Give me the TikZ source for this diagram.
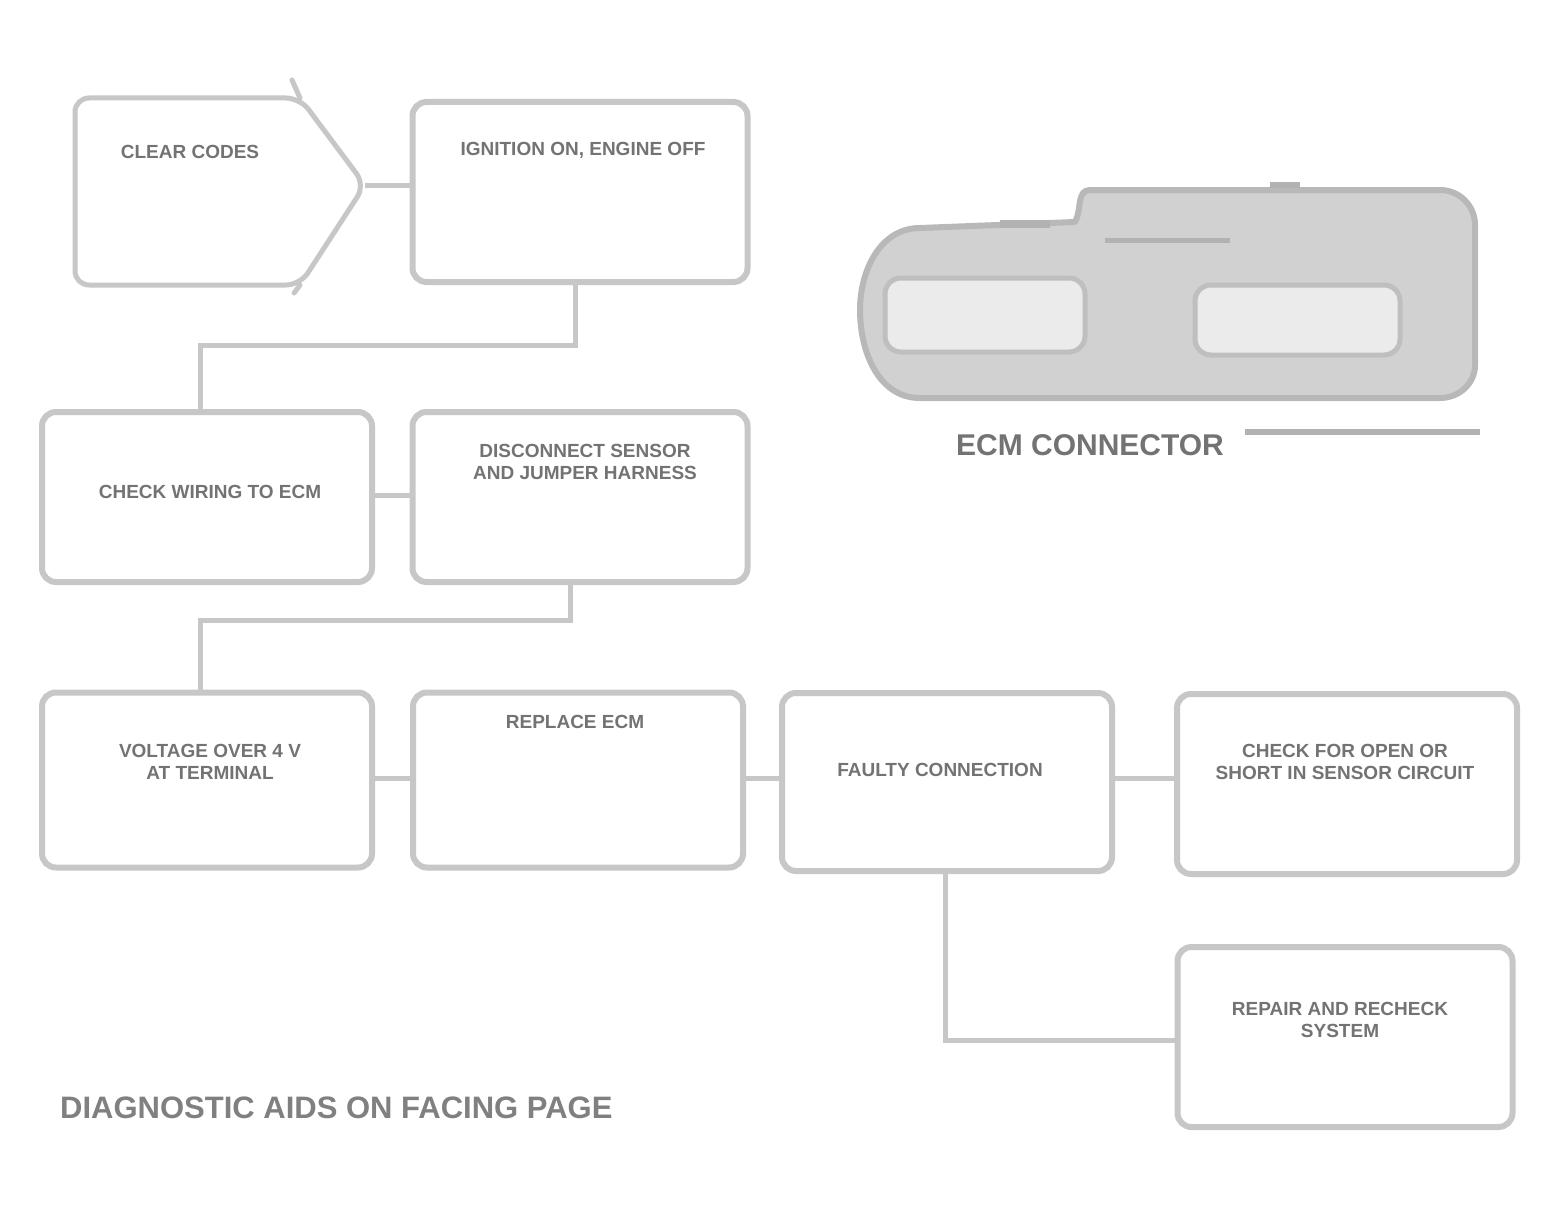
\documentclass[tikz,border=0pt]{standalone}
\usepackage{fontspec}
\setsansfont{Liberation Sans}
\begin{document}
\begin{tikzpicture}[x=1pt,y=-1pt,
  box/.style={draw=black!22, line width=6pt, rounded corners=14pt, inner sep=0pt},
  conn/.style={draw=black!22, line width=5pt},
  lbl/.style={font=\sffamily\bfseries\fontsize{19}{22}\selectfont, text=black!55, align=center, inner sep=0pt},
]
\useasboundingbox (0,0) rectangle (1557,1204);
\fill[white] (0,0) rectangle (1557,1204);

% box 1 (chevron shaped)
\draw[conn, rounded corners=14pt, line join=round] (300,98) -- (365,185) -- (300,285) -- (75,285) -- (75,98) -- cycle;
\draw[conn, line cap=round] (300,98) -- (292,80);
\draw[conn, line cap=round] (300,285) -- (294,293);
\coordinate (b1) at (365,185);
\node[lbl] (t1) at (190,152) {CLEAR CODES};

% box 2
\node[box, minimum width=335pt, minimum height=180pt] (b2) at (580,192) {};
\node[lbl] (t2) at (583,150) {IGNITION ON, ENGINE OFF};

% box 3, 4
\node[box, minimum width=330pt, minimum height=170pt] (b3) at (207,497) {};
\node[lbl] (t3) at (210,492) {CHECK WIRING TO ECM};
\node[box, minimum width=335pt, minimum height=170pt] (b4) at (580,497) {};
\node[lbl] (t4) at (585,462) {DISCONNECT SENSOR\\AND JUMPER HARNESS};

% row 3
\node[box, minimum width=330pt, minimum height=175pt] (b5) at (207,780) {};
\node[lbl] (t5) at (210,762) {VOLTAGE OVER 4 V\\AT TERMINAL};
\node[box, minimum width=330pt, minimum height=175pt] (b6) at (578,780) {};
\node[lbl] (t6) at (575,722) {REPLACE ECM};
\node[box, minimum width=330pt, minimum height=178pt] (b7) at (947,782) {};
\node[lbl] (t7) at (940,770) {FAULTY CONNECTION};
\node[box, minimum width=340pt, minimum height=180pt] (b8) at (1347,784) {};
\node[lbl] (t8) at (1345,762) {CHECK FOR OPEN OR\\SHORT IN SENSOR CIRCUIT};

% box 9
\node[box, minimum width=335pt, minimum height=180pt] (b9) at (1345,1037) {};
\node[lbl] (t9) at (1340,1020) {REPAIR AND RECHECK\\SYSTEM};

% connectors
\draw[conn] (b1) -- (b2.west |- b1);
\draw[conn] (b2.south -| 575,0) -- (575,345) -- (200,345) -- (b3.north -| 200,0);
\draw[conn] (b3.east |- 0,495) -- (b4.west |- 0,495);
\draw[conn] (b4.south -| 570,0) -- (570,620) -- (200,620) -- (b5.north -| 200,0);
\draw[conn] (b5.east |- 0,778) -- (b6.west |- 0,778);
\draw[conn] (b6.east |- 0,778) -- (b7.west |- 0,778);
\draw[conn] (b7.east |- 0,778) -- (b8.west |- 0,778);
\draw[conn] (b7.south -| 945,0) -- (945,1040) -- (b9.west |- 0,1040);

% connector illustration
\filldraw[fill=black!18, draw=black!28, line width=6pt, line join=round]
  (1090,190) -- (1440,190) to[out=0,in=90] (1475,225) -- (1475,365) to[out=-90,in=0] (1440,398)
  -- (920,398) to[out=180,in=-90] (860,310) to[out=90,in=180] (920,228) -- (1075,222) to[out=60,in=180] (1090,190) -- cycle;
\filldraw[fill=black!8, draw=black!25, line width=5pt, rounded corners=16pt] (885,278) rectangle (1085,352);
\filldraw[fill=black!8, draw=black!25, line width=5pt, rounded corners=16pt] (1195,285) rectangle (1400,355);
\draw[black!30, line width=5pt] (1105,240) -- (1230,240);
\draw[black!30, line width=6pt] (1270,185) -- (1300,185);
\draw[black!30, line width=8pt] (1000,224) -- (1050,224);
\node[font=\sffamily\bfseries\fontsize{30}{32}\selectfont, text=black!55, inner sep=0pt] (ilbl) at (1090,445) {ECM CONNECTOR};
\draw[black!30, line width=6pt] (1245,432) -- (1480,432);

% footer
\node[font=\sffamily\bfseries\fontsize{31}{33}\selectfont, text=black!50, inner sep=0pt, anchor=west] (foot) at (60,1108) {DIAGNOSTIC AIDS ON FACING PAGE};
\end{tikzpicture}
\end{document}
